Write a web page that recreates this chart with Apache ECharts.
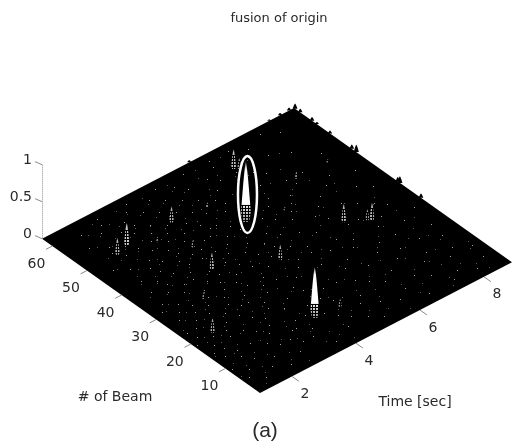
<!DOCTYPE html>
<html><head><meta charset="utf-8">
<style>html,body{margin:0;padding:0;background:#fff}#c{width:513px;height:445px}</style>
<script src="https://cdn.jsdelivr.net/npm/echarts@6/dist/echarts.min.js"></script>
</head><body><div id="c"></div>
<script>
// ---- data ----
const titleText = 'fusion of origin';
const timeRange = [1, 8.875];
const beamRange = [0, 63];
const timeTicks = [2, 4, 6, 8];
const beamTicks = [10, 20, 30, 40, 50, 60];
const zTicks = [0, 0.5, 1];
const zTickLabels = ['0', '0.5', '1'];
// peaks of the surface (time, beam, height)
const peakTime   = [6.23,6.33,2.35,1.95,3.75,4.76,2.99,3.5,3.28,2.38,1.68,7.11,8.09,6.86,7.42,7.34,6.1,4.77,4.64,5.1,3.9];
const peakBeam   = [56,55.3,51,50,51,50,48,42.5,35,29,20,46,46,30,27,27.6,40,29,10.5,42,11];
const peakHeight = [0.27,0.15,0.31,0.23,0.22,0.08,0.08,0.1,0.23,0.1,0.2,0.1,0.05,0.25,0.24,0.15,0.05,0.2,0.11,0.82,0.69];
// low ridges on the far edges
const ridgeTime   = [8.875,8.875,8.875,8.875,8.875,8.875,8.875,8.875,8.875,8.875,8.72,8.44,8.1,5.6];
const ridgeBeam   = [62.7,61.2,57.8,56.4,52.6,46.3,45,33,32.4,26.3,63,63,63,63];
const ridgeHeight = [0.07,0.05,0.05,0.03,0.04,0.06,0.1,0.06,0.09,0.06,0.04,0.03,0.02,0.03];
// the circled peak
const ringCentre = [5.15, 42, 0.36];
// small bright cells scattered across the surface: one beam row, several times
const speckBeams = [3,5,7,9,11,13,15,17,19,21,23,25,27,29,31,33,35,37,39,41,43,45,47,49,51,53,55,57,59,61];
const speckTimes = [
 [1.5,2.3,3.7,5.2,6.6,7.4,8.1],
 [1.2,1.9,2.8,4.3,4.9,5.9,7.7,8.5],
 [1.4,2.2,3.1,3.4,4.6,5.5,6.3,7.1],
 [1.1,1.8,2.6,2.9,3.6,4.4,5.1,6.8,7.9,8.6],
 [1.6,2.4,3.2,3.3,4.2,5.3,6.1,7.3,8.2],
 [1.3,1.7,2.1,2.7,3.5,3.8,4.7,5.8,6.5,7.6],
 [1.2,1.5,2.5,2.9,4.1,4.5,5.6,6.9,8.3],
 [1.4,1.9,2.3,3.0,3.6,4.8,5.2,6.2,7.2,7.8],
 [1.1,1.6,2.0,2.8,3.3,3.9,4.4,5.7,6.7,8.4],
 [1.3,1.8,2.2,2.6,3.4,4.3,5.0,6.0,7.0,7.5],
 [1.2,1.5,2.4,2.9,3.1,3.7,4.6,5.4,6.4,8.0],
 [1.7,2.1,2.7,3.2,3.8,4.2,4.9,5.9,6.6,7.4,8.5],
 [1.4,1.9,2.3,2.8,3.5,4.0,5.1,5.5,6.3,7.7],
 [1.6,2.0,2.5,3.0,3.4,4.4,4.8,5.6,6.9,7.2,8.1],
 [1.3,1.8,2.6,3.1,3.6,4.1,4.7,5.3,6.1,7.9],
 [1.5,2.2,2.9,3.3,3.9,4.5,5.0,5.8,6.7,7.6],
 [1.9,2.4,2.7,3.2,3.7,4.3,4.9,5.4,6.5,7.3,8.3],
 [1.6,2.1,2.8,3.5,4.0,4.6,5.2,6.0,6.8,8.0],
 [2.0,2.5,3.0,3.4,3.8,4.2,5.7,6.2,7.1],
 [1.7,2.3,2.9,3.3,3.6,4.4,4.8,5.5,6.4,7.5,8.4],
 [2.2,2.6,3.1,3.9,4.1,4.7,5.9,6.6,7.8],
 [1.8,2.4,3.0,3.5,4.3,4.5,5.3,6.1,7.0],
 [1.5,2.7,3.2,3.7,4.2,5.0,5.6,6.9,7.4],
 [2.1,2.5,2.9,3.4,4.0,4.6,5.2,6.3,8.2],
 [1.9,2.3,3.1,3.6,4.4,5.1,5.8,6.7],
 [2.0,2.8,3.3,4.1,4.8,5.4,6.5,7.7],
 [1.6,2.6,3.0,3.8,4.5,5.7,6.2,7.2],
 [2.2,2.9,3.5,4.2,4.9,5.5,6.8],
 [1.8,2.4,3.2,3.9,4.7,5.9,7.0,8.0],
 [2.5,3.4,4.3,5.2,6.0,6.6,7.6]
];
// fainter cells, in between those rows
const faintBeams = [1.7,4.3,6.2,8.4,10.3,12.6,14.2,16.7,18.4,20.2,22.6,24.3,26.4,28.2,30.7,32.3,34.6,36.2,38.4,40.3,42.7,44.2,46.6,48.3,50.4,52.7,54.2,56.6,58.3,60.4];
const faintTimes = [
 [1.37,2.71,4.13,5.86,7.23,8.34],
 [1.63,2.44,3.52,3.94,5.47,6.47,7.38,8.22],
 [1.08,1.74,2.57,3.83,4.27,5.07,6.74,7.92],
 [1.46,2.13,3.07,3.47,4.76,5.63,6.33,7.56,8.48],
 [1.27,1.92,2.76,3.64,4.54,5.72,6.94,7.41,8.62],
 [1.54,2.36,3.16,4.02,4.93,5.36,6.28,7.84],
 [1.12,1.83,2.64,3.27,3.74,4.67,5.93,7.06,8.17],
 [1.59,2.17,2.82,3.57,4.36,5.43,6.57,7.34,8.05],
 [1.33,1.76,2.47,3.13,3.71,4.57,5.13,6.14,7.63],
 [1.42,2.06,2.93,3.24,4.16,4.83,5.66,6.83,7.97],
 [1.67,2.28,2.74,3.43,3.96,4.73,5.24,6.46,7.12,8.26],
 [1.23,1.87,2.53,3.06,3.67,4.48,5.53,6.18,7.47],
 [1.52,2.14,2.87,3.26,3.86,4.63,5.76,6.77,8.11],
 [1.74,2.33,2.67,3.44,4.07,4.91,5.34,6.23,7.28],
 [1.38,2.07,2.56,3.18,3.73,4.28,5.17,5.96,7.02,7.84],
 [1.62,2.27,2.84,3.53,4.18,4.74,5.46,6.37,8.07],
 [1.83,2.43,3.08,3.63,3.97,4.86,5.27,6.59,7.36],
 [1.47,2.16,2.62,3.29,3.77,4.47,5.64,6.88],
 [1.93,2.37,2.94,3.46,4.09,4.72,5.38,6.27,7.53],
 [1.64,2.09,2.76,3.17,3.84,4.53,5.86,6.44,7.68],
 [1.76,2.47,2.98,3.57,4.23,5.04,5.72,6.63],
 [1.96,2.56,3.23,3.69,4.39,4.84,5.47,6.78,7.31],
 [1.58,2.18,2.83,3.38,3.93,4.66,5.33,6.16,7.14],
 [1.87,2.42,3.14,3.74,4.26,4.88,5.68,6.53],
 [1.69,2.24,2.77,3.49,4.12,4.62,5.56,7.06],
 [2.06,2.63,3.27,3.87,4.57,5.13,6.33],
 [1.78,2.34,2.96,3.61,4.33,5.26,6.07,7.44],
 [2.12,2.72,3.37,4.08,4.76,5.78,6.71],
 [1.94,2.58,3.16,3.79,4.54,5.36,6.42],
 [2.27,3.04,3.83,4.64,5.49,6.29]
];
// ---- view of the box ----
const ox = 260, oy = 393, tx = 32, ty = -16.6, bx = -3.46, by = -2.45, zy = -74;
const px = (t, b, z) => [ox + tx * (t - 1) + bx * b, oy + ty * (t - 1) + by * b + zy * (z || 0)];

const chart = echarts.init(document.getElementById('c'), null, {renderer: 'canvas'});
const FONT = '"DejaVu Sans", sans-serif';
const TEXT = '#2a2a2a', TICK = '#8a8a8a';

function txt(x, y, s, size, align, family) {
  return {type: 'text', silent: true, style: {x, y, text: s, fontFamily: family || FONT, fontSize: size, fill: TEXT,
    align: align || 'center', verticalAlign: 'middle'}};
}
function peakShape(api, p, dark) {
  const base = api.coord(px(p[0], p[1], 0));
  const top = api.coord(px(p[0], p[1], p[2]));
  const w = (dark ? 4 : 2.5) + p[2] * 10.5, n = 12, L = [], R = [];
  for (let i = 0; i <= n; i++) {
    const u = i / n, foot = dark ? 1 : Math.min(1, 0.55 + u * 3);
    const hw = w / 2 * Math.pow(1 - u, 0.75) * foot, y = base[1] + (top[1] - base[1]) * u;
    L.push([base[0] - hw, y]); R.unshift([base[0] + hw, y]);
  }
  const pts = L.concat(R);
  if (dark) return [{type: 'polygon', shape: {points: pts}, style: {fill: '#000'}}];
  const g = Math.round(110 + Math.min(1, p[2] / 0.5) * 145);
  const c = `rgb(${g},${g},${g})`;
  const big = p[2] > 0.5;
  const kids = [{type: 'polygon', shape: {points: pts},
    style: {fill: {type: 'linear', x: 0, y: 0, x2: 0, y2: 1, colorStops: [
      {offset: 0, color: '#666'}, {offset: 0.15, color: c}, {offset: big ? 0.68 : 1, color: c},
      {offset: 1, color: big ? '#8c8c8c' : c}]}}}];
  const frac = big ? 0.28 : 0.7;
  const y0 = Math.round(base[1] - (base[1] - top[1]) * frac), y1 = Math.round(base[1]) + 1;
  const x0 = Math.round(base[0] - w / 2) - 1, x1 = Math.round(base[0] + w / 2) + 1;
  for (let y = y0; y <= y1; y += 3) kids.push({type: 'rect', shape: {x: x0, y, width: x1 - x0, height: 1}, style: {fill: '#000'}});
  for (let x = x0; x <= x1; x += 3) kids.push({type: 'rect', shape: {x, y: y0, width: 1, height: y1 - y0}, style: {fill: '#000'}});
  return kids;
}
const peaks = peakTime.map((t, i) => [t, peakBeam[i], peakHeight[i]])
  .sort((a, c) => px(a[0], a[1])[1] - px(c[0], c[1])[1]);
const ridges = ridgeTime.map((t, i) => [t, ridgeBeam[i], ridgeHeight[i]]);
const specks = [], faint = [];
speckBeams.forEach((b, i) => speckTimes[i].forEach(t => specks.push([t, b])));
faintBeams.forEach((b, i) => faintTimes[i].forEach(t => faint.push([t, b])));

const layer = (data, renderItem, z) => ({type: 'custom', coordinateSystem: 'cartesian2d', data, renderItem, silent: true, clip: false, z,
  encode: {x: 0, y: 1}});
const val = (api, n) => { const a = []; for (let i = 0; i < n; i++) a.push(api.value(i)); return a; };
const dot = fill => (p, api) => {
  const c = api.coord(px(api.value(0), api.value(1)));
  return {type: 'rect', shape: {x: Math.round(c[0]), y: Math.round(c[1]), width: 1, height: 1}, style: {fill}};
};

chart.setOption({
  animation: false,
  backgroundColor: '#fff',
  title: {text: titleText, left: 274, top: 7, textAlign: 'center',
    textStyle: {fontFamily: FONT, fontSize: 13, fontWeight: 'normal', color: TEXT}},
  grid: {left: 0, right: 0, top: 0, bottom: 0},
  xAxis: {type: 'value', min: 0, max: 513, show: false},
  yAxis: {type: 'value', min: 0, max: 445, inverse: true, show: false},
  tooltip: {show: false},
  graphic: [
    txt(115, 397, '# of Beam', 14), txt(415, 402, 'Time [sec]', 14),
    txt(265, 431, '(a)', 21, 'center', '"Liberation Sans", sans-serif')
  ],
  series: [
    // ridges, behind the floor
    layer(ridges, (p, api) => ({type: 'group', children: peakShape(api, val(api, 3), true)}), 1),
    // floor
    layer([[timeRange[0], timeRange[1], beamRange[0], beamRange[1]]], (p, api) => {
      const [t0, t1, b0, b1] = val(api, 4);
      return {type: 'polygon', shape: {points: [[t0, b0], [t1, b0], [t1, b1], [t0, b1]].map(q => api.coord(px(q[0], q[1])))},
        style: {fill: '#000'}};
    }, 2),
    // specks
    layer(faint, dot('#5c5c5c'), 3),
    layer(specks, dot('#a0a0a0'), 3),
    // peaks
    layer(peaks, (p, api) => ({type: 'group', children: peakShape(api, val(api, 3), false)}), 4),
    // ring round the peak
    layer([ringCentre], (p, api) => {
      const c = api.coord(px(api.value(0), api.value(1), api.value(2)));
      return {type: 'ellipse', shape: {cx: c[0], cy: c[1], rx: 9.5, ry: 38.5},
        style: {fill: 'none', stroke: '#fff', lineWidth: 2.5}};
    }, 5),
    // z axis
    layer(zTicks.map((z, i) => [z, i]), (p, api) => {
      const z = api.value(0), c = api.coord(px(timeRange[0], beamRange[1], z));
      const kids = [{type: 'line', shape: {x1: c[0], y1: c[1], x2: c[0] - 7, y2: c[1] - 3}, style: {stroke: TICK, lineWidth: 1}},
        txt(c[0] - 10, c[1] - 4, zTickLabels[api.value(1)], 14, 'right')];
      if (z === 1) {
        const c0 = api.coord(px(timeRange[0], beamRange[1], 0));
        kids.push({type: 'line', shape: {x1: c[0] + .5, y1: c[1], x2: c[0] + .5, y2: c0[1]},
          style: {stroke: TICK, lineWidth: 1, lineDash: [1, 1]}});
      }
      return {type: 'group', children: kids};
    }, 6),
    // beam axis
    layer(beamTicks.map(b => [b]), (p, api) => {
      const b = api.value(0), a = api.coord(px(timeRange[0], b)), e = api.coord(px(timeRange[0] - 0.2, b));
      return {type: 'group', children: [
        {type: 'line', shape: {x1: a[0], y1: a[1], x2: e[0], y2: e[1]}, style: {stroke: TICK, lineWidth: 1}},
        txt(a[0] - 16, a[1] + 18, String(b), 14)]};
    }, 6),
    // time axis
    layer(timeTicks.map(t => [t]), (p, api) => {
      const t = api.value(0), a = api.coord(px(t, beamRange[0])), e = api.coord(px(t, beamRange[0] - 2));
      return {type: 'group', children: [
        {type: 'line', shape: {x1: a[0], y1: a[1], x2: e[0], y2: e[1]}, style: {stroke: TICK, lineWidth: 1}},
        txt(a[0] + 13, a[1] + 18, String(t), 14)]};
    }, 6)
  ]
});
</script></body></html>
